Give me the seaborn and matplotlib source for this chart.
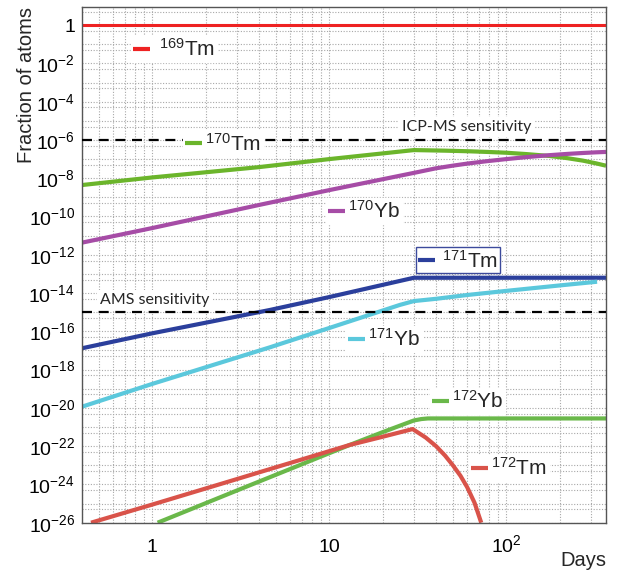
import numpy as np
import matplotlib
matplotlib.use("Agg")
import matplotlib.pyplot as plt
import seaborn as sns
from matplotlib.ticker import FixedLocator, FuncFormatter, LogLocator, NullFormatter
from matplotlib.lines import Line2D

# values: days after start, fraction of atoms
tm169_days = [0.4, 365]
tm169_frac = [1.0, 1.0]

tm170_days = [0.4, 1, 4, 10, 30, 45, 60, 80, 100, 130, 175, 220, 270, 320, 365]
tm170_frac = [4.4e-9, 1.1e-8, 3.8e-8, 1.0e-7, 2.95e-7, 2.75e-7, 2.57e-7, 2.34e-7,
              2.14e-7, 1.82e-7, 1.45e-7, 1.12e-7, 8.3e-8, 6.0e-8, 4.5e-8]

yb170_days = [0.4, 1, 4, 10, 30, 40, 50, 60, 77, 100, 130, 175, 220, 270, 320, 365]
yb170_frac = [4.3e-12, 2.5e-11, 4.0e-10, 2.4e-9, 1.9e-8, 3.3e-8, 4.56e-8, 5.8e-8,
              7.7e-8, 1.0e-7, 1.27e-7, 1.6e-7, 1.86e-7, 2.08e-7, 2.25e-7, 2.36e-7]

tm171_days = [0.4, 1, 4.6, 10, 30, 365]
tm171_frac = [1.3e-17, 7.9e-17, 1.3e-15, 6.2e-15, 6.3e-14, 6.3e-14]

yb171_days = [0.4, 1, 4.6, 10, 25, 30, 40, 60, 100, 200, 325]
yb171_frac = [1.15e-20, 1.8e-19, 1.45e-17, 1.5e-16, 2.4e-15, 3.8e-15, 5.0e-15,
              7.9e-15, 1.3e-14, 2.5e-14, 3.9e-14]

yb172_days = [1.07, 3, 13, 20, 30, 33, 36, 365]
yb172_frac = [1.0e-26, 4.8e-25, 1.15e-22, 5.4e-22, 2.2e-21, 2.6e-21, 2.8e-21, 2.8e-21]

tm172_days = [0.45, 1, 3, 13, 20, 29.5, 35, 40, 45, 50, 55, 60, 66, 72]
tm172_frac = [1.0e-26, 8.9e-26, 1.9e-24, 1.15e-22, 3.1e-22, 7.8e-22, 2.8e-22,
              1.0e-22, 3.2e-23, 9.5e-24, 2.8e-24, 7.1e-25, 1.1e-25, 1.0e-26]

sensitivity_names = ["ICP-MS sensitivity", "AMS sensitivity"]
sensitivity_levels = [1e-6, 1e-15]

x_tick_values = [1, 10, 100]
x_tick_labels = ["1", "10", r"$\mathregular{10^{2}}$"]

sns.set_theme(style="white")
plt.rcParams["font.family"] = ["Liberation Sans", "DejaVu Sans"]
plt.rcParams["mathtext.fontset"] = "custom"
plt.rcParams["mathtext.rm"] = "Liberation Sans"
plt.rcParams["mathtext.it"] = "Liberation Sans:italic"
plt.rcParams["mathtext.bf"] = "Liberation Sans:bold"

# mass number, element, days, fraction, colour, line width,
# key position (axes fraction), key frame colour, gap between key line and text
series = [
    ("169", "Tm", tm169_days, tm169_frac, "#ee2222", 2.2, (0.0935, 0.919), None, 0.45),
    ("170", "Tm", tm170_days, tm170_frac, "#6bb52b", 3.0, (0.1927, 0.736), None, 0.15),
    ("170", "Yb", yb170_days, yb170_frac, "#a64ca6", 3.0, (0.4656, 0.605), None, 0.15),
    ("171", "Tm", tm171_days, tm171_frac, "#2b3f9c", 3.0, (0.637, 0.509), "#3c4a9c", 0.35),
    ("171", "Yb", yb171_days, yb171_frac, "#5bc8dc", 3.0, (0.5038, 0.356), None, 0.15),
    ("172", "Yb", yb172_days, yb172_frac, "#6ab84a", 3.0, (0.664, 0.236), None, 0.15),
    ("172", "Tm", tm172_days, tm172_frac, "#d9534a", 3.0, (0.7385, 0.106), None, 0.15),
]

fig = plt.figure(figsize=(6.22, 5.72), dpi=100)
ax = fig.add_axes([0.1318, 0.0862, 0.8425, 0.901])

for mass, elem, days, frac, color, lw, _, _, _ in series:
    sns.lineplot(x=days, y=frac, color=color, linewidth=lw, estimator=None,
                 sort=False, ax=ax, solid_capstyle="butt")

for level in sensitivity_levels:
    ax.axhline(level, color="black", linewidth=1.6, dashes=(4.5, 3), zorder=3)

ax.set_xscale("log")
ax.set_yscale("log")
ax.set_xlim(0.4, 365)
ax.set_ylim(1e-26, 8.5)

# y axis: a tick on every decade, labels on every second, minor at 5 x 10^k
ax.yaxis.set_major_locator(FixedLocator(10.0 ** np.arange(-26, 1)))
ax.yaxis.set_minor_locator(FixedLocator(5 * 10.0 ** np.arange(-27, 1)))


def y_label(v, pos):
    k = int(round(np.log10(v)))
    if k % 2:
        return ""
    if k == 0:
        return "1"
    return r"$\mathregular{10^{%d}}$" % k


ax.yaxis.set_major_formatter(FuncFormatter(y_label))
ax.yaxis.set_minor_formatter(NullFormatter())

ax.xaxis.set_major_locator(FixedLocator(x_tick_values))
ax.xaxis.set_major_formatter(FuncFormatter(lambda v, pos: x_tick_labels[pos]))
ax.xaxis.set_minor_locator(LogLocator(base=10, subs=np.arange(2, 10), numticks=20))
ax.xaxis.set_minor_formatter(NullFormatter())

ax.grid(which="both", linestyle=(0, (1, 1.5)), color="#a8a8a8", linewidth=0.8)
ax.set_axisbelow(True)

ax.tick_params(which="both", direction="in", colors="#555555", labelcolor="black",
               labelsize=14)
ax.tick_params(axis="x", which="major", length=10, pad=21)
ax.tick_params(axis="x", which="minor", length=5)
ax.tick_params(axis="y", which="major", length=7, pad=5)
ax.tick_params(axis="y", which="minor", length=4)
for spine in ax.spines.values():
    spine.set_color("#555555")
    spine.set_linewidth(1.0)
# keep "10" and "10^2" on the same baseline
plt.setp(ax.get_xticklabels(), va="baseline")

ax.set_ylabel("Fraction of atoms", fontsize=14.5, loc="top")
ax.yaxis.set_label_coords(-0.088, 1.0)
ax.set_xlabel("Days", fontsize=14.5, loc="right")
ax.xaxis.set_label_coords(1.0, -0.055)

# sensitivity captions
ax.text(0.734, 0.768, sensitivity_names[0], transform=ax.transAxes, ha="center",
        va="center", fontsize=11.5, fontfamily="Lato",
        bbox=dict(facecolor="white", edgecolor="none", pad=2))
ax.text(0.139, 0.432, sensitivity_names[1], transform=ax.transAxes, ha="center",
        va="center", fontsize=11.5, fontfamily="Lato",
        bbox=dict(facecolor="white", edgecolor="none", pad=2))

# one small key for each isotope, placed next to its curve
for mass, elem, days, frac, color, lw, pos, edge, gap in series:
    handle = Line2D([], [], color=color, linewidth=3.0, solid_capstyle="butt")
    leg = ax.legend(handles=[handle], labels=[r"$^{%s}$%s" % (mass, elem)],
                    loc="center left", bbox_to_anchor=pos, borderaxespad=0,
                    frameon=True, fancybox=False, framealpha=1,
                    edgecolor=edge if edge else "white", facecolor="white",
                    handlelength=0.8, handletextpad=gap, borderpad=0.1,
                    fontsize=15)
    leg.get_frame().set_linewidth(1.0)
    ax.add_artist(leg)

fig.savefig("out.png", dpi=100)
